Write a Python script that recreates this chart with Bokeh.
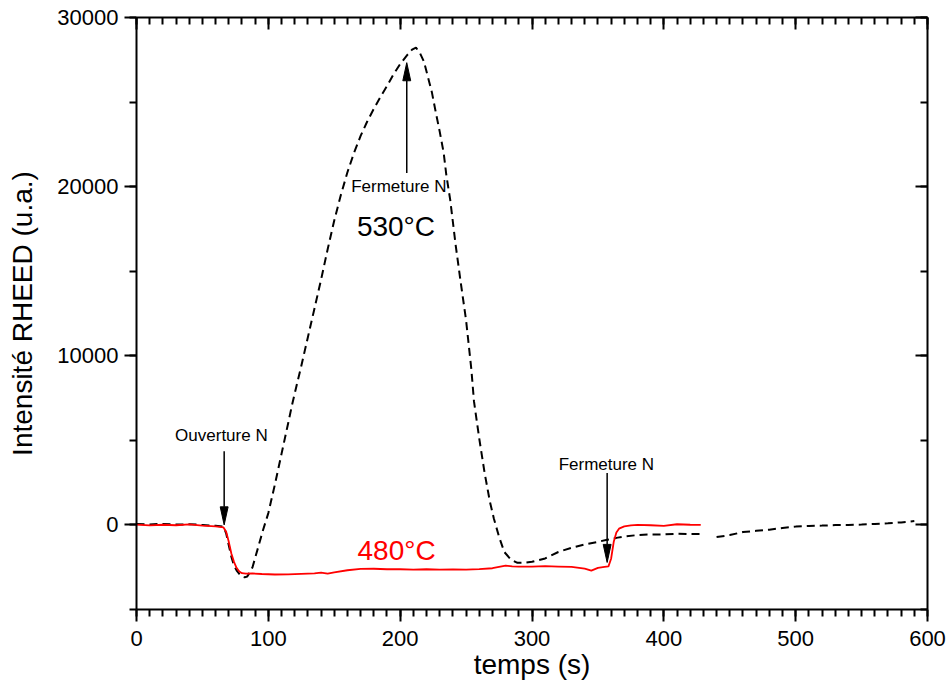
import math
from bokeh.plotting import figure
from bokeh.models import Range1d, LinearAxis, SingleIntervalTicker, ColumnDataSource
from bokeh.core.properties import value
from bokeh.embed import file_html
from bokeh.resources import INLINE

nan = float("nan")

# --- 480 °C curve (red, solid) ---
t_480 = [0, 10, 20, 30, 40, 50, 60, 66, 68, 70, 72, 74, 76, 78, 80, 83, 88, 95, 105, 115,
         125, 135, 140, 145, 150, 160, 170, 180, 190, 200, 210, 220, 230, 240, 250, 260,
         270, 280, 285, 290, 300, 310, 320, 330, 340, 345, 350, 355, 358, 360, 362, 364,
         366, 370, 375, 380, 390, 400, 410, 420, 428]
i_480 = [20, -30, 10, -20, 30, -40, -80, -150, -400, -1000, -1700, -2200, -2550, -2750,
         -2850, -2880, -2870, -2900, -2930, -2920, -2890, -2870, -2820, -2880, -2800,
         -2680, -2600, -2590, -2620, -2620, -2640, -2620, -2640, -2630, -2640, -2610,
         -2560, -2400, -2450, -2470, -2460, -2440, -2460, -2480, -2580, -2700, -2540,
         -2480, -2450, -2000, -1000, -450, -220, -90, -30, 0, -20, -60, 40, 10, 0]

# --- 530 °C curve (black, dashed) ---
t_530 = [0, 10, 20, 30, 40, 50, 60, 66, 68, 70, 72, 74, 76, 78, 80, 82, 84, 86, 88, 92,
         96, 100, 102, 105, 110, 115, 118, 121, 125, 130, 135, 140, 145, 150, 155, 160,
         165, 170, 175, 180, 185, 190, 195, 200, 205, 209, 212, 215, 218, 221, 224, 227,
         230, 233, 235, 238, 242, 246, 250, 254, 256, 260, 264, 268, 271, 275, 279, 284,
         289, 295, 300, 310, 320, 330, 340, 350, 357, 365, 370, 380, 390, 400, 410, 420,
         428, 434, 440, 450, 460, 470, 480, 490, 500, 510, 520, 530, 540, 550, 560, 570,
         580, 590]
i_530 = [50, 30, 60, 20, 40, 0, -50, -100, -500, -1200, -1900, -2400, -2700, -2900,
         -3050, -3100, -3050, -2800, -2500, -1400, -300, 700, 1380, 2400, 4200, 6000,
         7100, 8100, 9400, 11100, 12800, 14500, 16300, 18000, 19500, 20850, 22000, 23000,
         23850, 24600, 25300, 25950, 26650, 27250, 27750, 28100, 28220, 27900, 27400,
         26500, 25600, 24400, 23250, 22000, 20700, 19200, 16600, 14300, 12100, 9200,
         7300, 5100, 3100, 1400, 400, -700, -1600, -2050, -2240, -2230, -2180, -1980,
         -1600, -1350, -1150, -1000, -880, -750, -680, -600, -560, -560, -520, -540, -540,
         nan, -720, -600, -420, -350, -280, -180, -100, -60, -40, -10, 0, 20, 60, 100,
         150, 230]

# --- annotations ---
arrow_x = [66.5, 205, 357]
arrow_tail = [4360, 20800, 3070]
arrow_tip = [0, 27330, -2220]
note_text = ["Ouverture N", "Fermeture N", "Fermeture N"]
note_x = [64.4, 199, 356.4]
note_y = [5300, 20000, 3600]
temp_text = ["530°C", "480°C"]
temp_x = [196.8, 197.3]
temp_y = [17620, -1490]
temp_color = ["black", "red"]

FONT = "Liberation Sans"

p = figure(width=947, height=682, output_backend="svg", toolbar_location=None,
           x_range=Range1d(0, 600), y_range=Range1d(-5000, 30000),
           min_border_left=136, min_border_right=20, min_border_top=17, min_border_bottom=73)
p.outline_line_color = None
p.xgrid.visible = False
p.ygrid.visible = False
p.background_fill_color = "white"
p.border_fill_color = "white"

xt = SingleIntervalTicker(interval=100, num_minor_ticks=10)
yt = SingleIntervalTicker(interval=10000, num_minor_ticks=2)


def style_axis(ax, ticks_in):
    ax.axis_line_width = 2
    ax.major_tick_line_width = 2
    ax.minor_tick_line_width = 2
    if ticks_in:
        ax.major_tick_in = 12
        ax.major_tick_out = 0
        ax.minor_tick_in = 7
        ax.minor_tick_out = 0
    else:
        ax.major_tick_in = 0
        ax.major_tick_out = 12
        ax.minor_tick_in = 0
        ax.minor_tick_out = 7
    ax.major_label_text_font = FONT
    ax.major_label_text_font_size = "22px"
    ax.major_label_text_color = "black"
    ax.axis_label_text_font = FONT
    ax.axis_label_text_font_size = "28px"
    ax.axis_label_text_font_style = "normal"
    ax.axis_label_text_color = "black"


xa = p.xaxis[0]
xa.ticker = xt
style_axis(xa, False)
xa.axis_label = "temps (s)"
xa.major_label_standoff = 9
xa.axis_label_standoff = 0

ya = p.yaxis[0]
ya.ticker = yt
style_axis(ya, False)
ya.axis_label = "Intensité RHEED (u.a.)"
ya.major_label_standoff = 6
ya.axis_label_standoff = 16

top = LinearAxis(ticker=SingleIntervalTicker(interval=100, num_minor_ticks=10))
style_axis(top, True)
top.major_label_text_font_size = "1px"
top.major_label_text_color = None
top.major_label_standoff = 0
p.add_layout(top, "above")

right = LinearAxis(ticker=SingleIntervalTicker(interval=10000, num_minor_ticks=2))
style_axis(right, True)
right.major_label_text_font_size = "1px"
right.major_label_text_color = None
right.major_label_standoff = 0
p.add_layout(right, "right")

# curves
p.line(t_530, i_530, line_color="black", line_width=2, line_dash="8 5")
p.line(t_480, i_480, line_color="red", line_width=1.8)

# arrows (shaft + narrow filled head)
head_len = 1070.0   # data units along y
head_half = 3.0     # data units along x
shaft_x0, shaft_x1, shaft_y0, shaft_y1 = [], [], [], []
head_xs, head_ys = [], []
for x, tail, tip in zip(arrow_x, arrow_tail, arrow_tip):
    d = 1.0 if tip > tail else -1.0
    base = tip - d * head_len
    shaft_x0.append(x); shaft_x1.append(x)
    shaft_y0.append(tail); shaft_y1.append(base)
    head_xs.append([x - head_half, x, x + head_half])
    head_ys.append([base, tip, base])
p.segment(shaft_x0, shaft_y0, shaft_x1, shaft_y1, line_color="black", line_width=1.5)
p.patches(head_xs, head_ys, fill_color="black", line_color="black", line_width=1)

p.text(note_x, note_y, text=note_text, text_font=value(FONT), text_font_size="17px",
       text_align="center", text_baseline="middle", text_color="black")
src = ColumnDataSource(dict(x=temp_x, y=temp_y, t=temp_text, c=temp_color))
p.text("x", "y", text="t", source=src, text_font=value(FONT), text_font_size="28px",
       text_align="center", text_baseline="middle", text_color="c")

open("out.html", "w").write(file_html(p, INLINE))
